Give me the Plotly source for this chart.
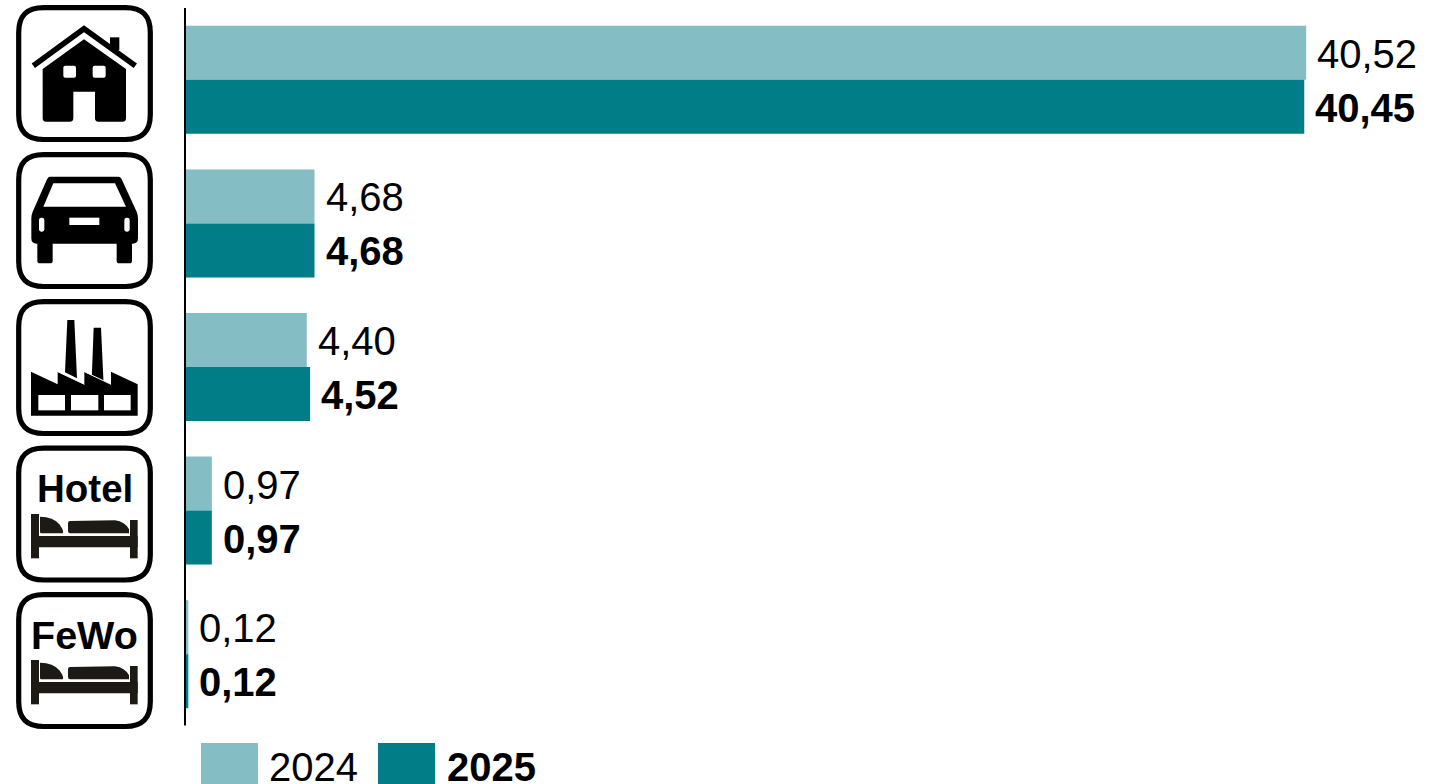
import plotly.graph_objects as go

# ---- data ----
categories = ["Haus", "Auto", "Industrie", "Hotel", "FeWo"]
values_2024 = [40.52, 4.68, 4.40, 0.97, 0.12]
values_2025 = [40.45, 4.68, 4.52, 0.97, 0.12]
series_names = ["2024", "2025"]

LIGHT = "#84bdc4"
DARK = "#007d87"
BLACK = "#000000"
BED = "#1d1a15"
FONT = "Liberation Sans"
W, H = 1434, 784


def fmt(v):
    return f"{v:.2f}".replace(".", ",")


def scale_path(cmds, oy):
    """cmds in 3x-zoom crop coordinates -> page pixels"""
    out = []
    for c in cmds:
        if isinstance(c, str):
            out.append(c)
        else:
            out.append(f"{c[0] / 3:.2f},{oy + c[1] / 3:.2f}")
    return " ".join(out)


shapes = []


def fill(cmds, oy, color=BLACK):
    shapes.append(dict(type="path", xref="x2", yref="y2", layer="above",
                       path=scale_path(cmds, oy), fillcolor=color, line=dict(width=0)))


def stroke(cmds, oy, color=BLACK, w=5.5):
    shapes.append(dict(type="path", xref="x2", yref="y2", layer="above",
                       path=scale_path(cmds, oy), line=dict(color=color, width=w)))


def rect(x0, y0, x1, y1, oy, color=BLACK):
    fill(["M", (x0, y0), "L", (x1, y0), "L", (x1, y1), "L", (x0, y1), "Z"], oy, color)


def rrect(x0, y0, x1, y1, r, oy, color=BLACK):
    fill(["M", (x0 + r, y0), "L", (x1 - r, y0), "Q", (x1, y0), (x1, y0 + r),
          "L", (x1, y1 - r), "Q", (x1, y1), (x1 - r, y1),
          "L", (x0 + r, y1), "Q", (x0, y1), (x0, y1 - r),
          "L", (x0, y0 + r), "Q", (x0, y0), (x0 + r, y0), "Z"], oy, color)


def frame(top):
    x0, x1, y0, y1, r = 18.7, 150.3, top + 2.6, top + 134.5, 25
    shapes.append(dict(
        type="path", xref="x2", yref="y2", layer="above", fillcolor="white",
        line=dict(color=BLACK, width=5.2),
        path=(f"M {x0 + r},{y0} L {x1 - r},{y0} C {x1 - 8},{y0} {x1},{y0 + 8} {x1},{y0 + r} "
              f"L {x1},{y1 - r} C {x1},{y1 - 8} {x1 - 8},{y1} {x1 - r},{y1} "
              f"L {x0 + r},{y1} C {x0 + 8},{y1} {x0},{y1 - 8} {x0},{y1 - r} "
              f"L {x0},{y0 + r} C {x0},{y0 + 8} {x0 + 8},{y0} {x0 + r},{y0} Z")))


# frames
for t in (5, 152, 299, 445.5, 592):
    frame(t)

# house
rect(330, 112, 358, 150, 0)
fill(["M", (252, 118), "L", (378, 207), "L", (378, 355), "Q", (378, 365), (368, 365), "L", (295, 365),
      "Q", (285, 365), (285, 355), "L", (285, 275), "L", (220, 275), "L", (220, 355), "Q", (220, 365), (210, 365),
      "L", (138, 365), "Q", (128, 365), (128, 355), "L", (128, 207), "Z"], 0)
rrect(190, 197, 228, 233, 6, 0, "white")
rrect(278, 197, 317, 233, 6, 0, "white")
stroke(["M", (100, 197), "L", (252, 86), "L", (406, 197)], 0, w=5.5)

# car
fill(["M", (150, 95), "L", (355, 95), "Q", (362, 95), (366, 105), "L", (410, 200), "Q", (414, 210), (414, 220),
      "L", (414, 280), "Q", (414, 296), (398, 296), "L", (110, 296), "Q", (94, 296), (94, 280), "L", (94, 220),
      "Q", (94, 210), (98, 200), "L", (140, 105), "Q", (144, 95), (150, 95), "Z"], 145)
fill(["M", (160, 115), "L", (345, 115), "L", (378, 185), "L", (130, 185), "Z"], 145, "white")
rect(208, 218, 298, 240, 145, "white")
rrect(117, 218, 133, 260, 7, 145, "white")
rrect(373, 218, 389, 260, 7, 145, "white")
rrect(112, 290, 158, 355, 8, 145)
rrect(350, 290, 396, 355, 8, 145)

# factory
fill(["M", (202, 75), "L", (223, 75), "L", (231, 250), "L", (195, 232), "Z"], 295)
fill(["M", (281, 98), "L", (303, 98), "L", (311, 270), "L", (275, 255), "Z"], 295)
fill(["M", (93, 230), "L", (173, 268), "L", (173, 230), "L", (253, 268), "L", (253, 230), "L", (333, 268),
      "L", (333, 230), "L", (413, 268), "L", (413, 362), "L", (93, 362), "Z"], 295)
for a, b in ((173, 253), (253, 333)):
    stroke(["M", (a, 230), "L", (b, 268)], 295, "white", 1)
rect(115, 300, 195, 346, 295, "white")
rect(213, 300, 295, 346, 295, "white")
rect(312, 300, 392, 346, 295, "white")


# beds (Hotel / FeWo)
def bed(oy):
    rect(93, 222, 117, 355, oy, BED)
    rect(390, 240, 413, 355, oy, BED)
    rect(93, 288, 413, 322, oy, BED)
    fill(["M", (120, 230), "Q", (160, 230), (178, 253), "Q", (194, 275), (188, 280), "L", (124, 280),
          "Q", (120, 280), (120, 275), "Z"], oy, BED)
    fill(["M", (210, 243), "L", (345, 241), "Q", (375, 245), (387, 268), "L", (387, 280), "L", (210, 280),
          "Q", (204, 280), (204, 272), "L", (204, 250), "Q", (204, 243), (210, 243), "Z"], oy, BED)


bed(440)
bed(586)

# legend swatches
for x0, x1, c in ((201, 258, LIGHT), (378, 435, DARK)):
    shapes.append(dict(type="rect", xref="x2", yref="y2", x0=x0, x1=x1, y0=743, y1=790,
                       fillcolor=c, line=dict(width=0), layer="above"))

# vertical baseline, drawn over the bar starts
shapes.append(dict(type="line", xref="x2", yref="y2", x0=185, x1=185, y0=8, y1=725.5,
                   line=dict(color=BLACK, width=2), layer="above"))

# ---- figure ----
fig = go.Figure()
fig.add_trace(go.Bar(y=categories, x=values_2024, name=series_names[0], orientation="h",
                     marker=dict(color=LIGHT, line=dict(width=0)), hoverinfo="x+y"))
fig.add_trace(go.Bar(y=categories, x=values_2025, name=series_names[1], orientation="h",
                     marker=dict(color=DARK, line=dict(width=0)), hoverinfo="x+y"))
# empty trace that keeps the full-page helper axes alive for icons and legend
fig.add_trace(go.Scatter(x=[None], y=[None], xaxis="x2", yaxis="y2", mode="markers", hoverinfo="skip"))

annotations = []
for cat, a, b in zip(categories, values_2024, values_2025):
    annotations.append(dict(x=a, y=cat, xref="x", yref="y", text=fmt(a), showarrow=False, xanchor="left",
                            yanchor="middle", xshift=9, yshift=26, font=dict(size=40, color=BLACK, family=FONT)))
    annotations.append(dict(x=b, y=cat, xref="x", yref="y", text=f"<b>{fmt(b)}</b>", showarrow=False,
                            xanchor="left", yanchor="middle", xshift=9, yshift=-28,
                            font=dict(size=40, color=BLACK, family=FONT)))


def label(x, y, text, size, anchor="center"):
    annotations.append(dict(x=x, y=y, xref="x2", yref="y2", text=text, showarrow=False, xanchor=anchor,
                            yanchor="middle", font=dict(size=size, color=BLACK, family=FONT)))


label(85, 488, "<b>Hotel</b>", 38.5)
label(84.7, 635, "<b>FeWo</b>", 39.5)
label(266.5, 767, series_names[0], 40, "left")
label(444.5, 767, f"<b>{series_names[1]}</b>", 40, "left")

X0, X_END = 185, 1430
Y_TOP, Y_BOT = 8, 726
fig.update_layout(
    width=W, height=H, autosize=False,
    margin=dict(l=0, r=0, t=0, b=0, pad=0),
    paper_bgcolor="white", plot_bgcolor="rgba(0,0,0,0)",
    barmode="group", bargap=0.248, bargroupgap=0,
    showlegend=False,
    font=dict(family=FONT, color=BLACK),
    xaxis=dict(domain=[X0 / W, X_END / W], range=[0, (X_END - X0) / 27.67], visible=False, fixedrange=True),
    yaxis=dict(domain=[1 - Y_BOT / H, 1 - Y_TOP / H], autorange="reversed", showline=False,
               showticklabels=False, ticks="", showgrid=False, zeroline=False, fixedrange=True),
    xaxis2=dict(domain=[0, 1], range=[0, W], visible=False, anchor="y2", fixedrange=True),
    yaxis2=dict(domain=[0, 1], range=[H, 0], visible=False, anchor="x2", fixedrange=True),
    shapes=shapes,
    annotations=annotations,
)

fig.write_html("out.html", config=dict(displayModeBar=False),
               post_script="document.body.style.margin='0';document.body.style.overflow='hidden';")
